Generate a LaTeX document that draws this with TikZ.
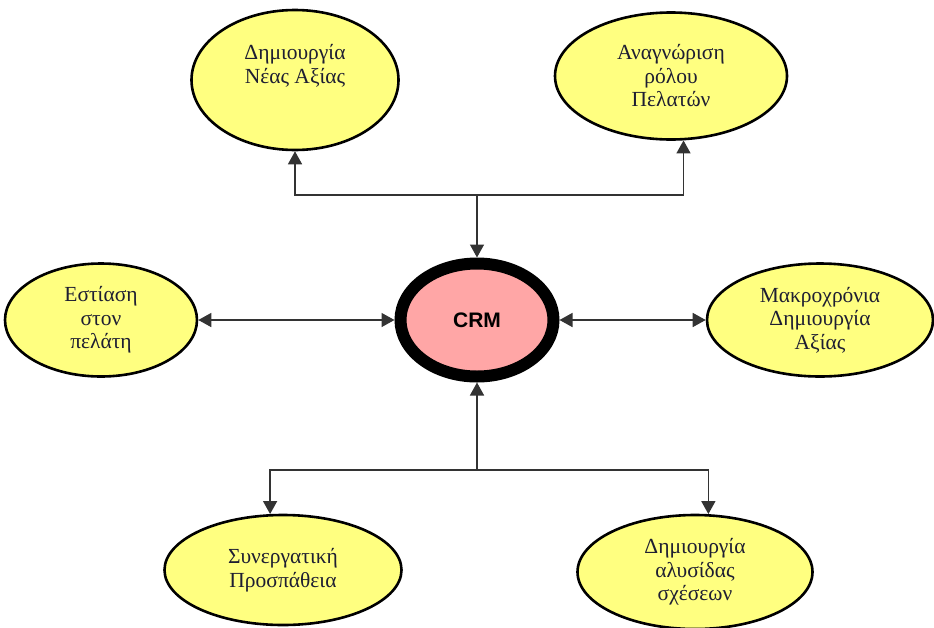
\documentclass[tikz,border=0pt]{standalone}
\usepackage{fontspec}
\setmainfont{Liberation Serif}
\newfontfamily\crmfont{Liberation Sans}
\usetikzlibrary{shapes.geometric,arrows.meta}
\definecolor{pale}{RGB}{255,255,128}
\definecolor{rose}{RGB}{255,166,166}
\definecolor{ink}{RGB}{30,30,50}
\begin{document}
\begin{tikzpicture}[x=1pt,y=-1pt,
  idea/.style={ellipse,draw=black,line width=2.6pt,fill=pale,inner sep=0pt,
    align=center,text=ink,font=\fontsize{21.5}{23.5}\selectfont},
  hub/.style={ellipse,draw=black,line width=12pt,fill=rose,inner sep=0pt,
    font=\crmfont\bfseries\fontsize{21}{24}\selectfont},
  link/.style={draw=black!80,line width=1.5pt,-{Triangle[length=13pt,width=14pt]}},
  duplex/.style={link,{Triangle[length=13pt,width=14pt]}-{Triangle[length=13pt,width=14pt]}}]
\useasboundingbox (0,0) rectangle (934,627);

% centre
\node[hub,minimum width=153pt,minimum height=113pt] (crm) at (477,320) {CRM};

% surrounding ideas
\node[idea,minimum width=207pt,minimum height=140pt,text depth=32pt] (tl) at (295,80)
  {Δημιουργία\\Νέας Αξίας};
\node[idea,minimum width=232pt,minimum height=127pt] (tr) at (671,76)
  {Αναγνώριση\\ρόλου\\Πελατών};
\node[idea,minimum width=192pt,minimum height=113pt] (le) at (101,320)
  {Εστίαση\\στον\\πελάτη};
\node[idea,minimum width=226pt,minimum height=113pt] (ri) at (820,320)
  {Μακροχρόνια\\Δημιουργία\\Αξίας};
\node[idea,minimum width=237pt,minimum height=110pt] (bl) at (283,570)
  {Συνεργατική\\Προσπάθεια};
\node[idea,minimum width=235pt,minimum height=114pt] (br) at (695,572)
  {Δημιουργία\\αλυσίδας\\σχέσεων};

% branching points
\coordinate (jt) at (477,195);
\coordinate (jb) at (477,470);

% upper tree
\draw[link] (jt) -- (crm);
\draw[link] (jt) -| (tl.south);
\draw[link] (jt) -| (tr.-79);

% lower tree
\draw[link] (jb) -- (crm);
\draw[link] (jb) -| (bl.103);
\draw[link] (jb) -| (br.77);

% side links
\draw[duplex] (le.east) -- (crm.west);
\draw[duplex] (crm.east) -- (ri.west);
\end{tikzpicture}
\end{document}
